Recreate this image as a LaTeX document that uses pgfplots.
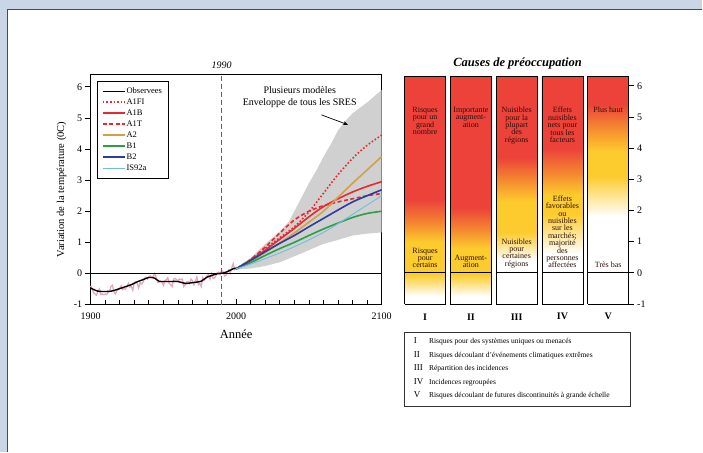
\documentclass[border=0pt]{standalone}
\usepackage{fontspec}
\setmainfont{Liberation Serif}
\usepackage{pgfplots}
\pgfplotsset{compat=1.18}
\usetikzlibrary{arrows.meta}

\definecolor{frameblue}{RGB}{203,213,232}
\definecolor{frameline}{RGB}{25,85,145}
\definecolor{envgray}{RGB}{208,208,208}
\definecolor{obspink}{RGB}{232,165,190}
\definecolor{cRed}{RGB}{236,66,58}
\definecolor{cOra}{RGB}{244,135,48}
\definecolor{cYel}{RGB}{252,203,45}
\definecolor{lRed}{RGB}{235,40,45}
\definecolor{lGold}{RGB}{212,160,70}
\definecolor{lGreen}{RGB}{40,160,70}
\definecolor{lBlue}{RGB}{45,60,160}
\definecolor{lCyan}{RGB}{110,190,225}
\definecolor{coltext}{RGB}{45,15,10}

% vertical colour ramps of the five columns (25bp = -1, 75bp = 6.3)
\pgfdeclareverticalshading{colI}{100bp}{color(0bp)=(white); color(26.7bp)=(white); color(31.5bp)=(cYel); color(38.7bp)=(cYel); color(42.8bp)=(cOra); color(47.9bp)=(cRed); color(100bp)=(cRed)}
\pgfdeclareverticalshading{colII}{100bp}{color(0bp)=(white); color(26.7bp)=(white); color(31.5bp)=(cYel); color(37.3bp)=(cYel); color(41.4bp)=(cOra); color(46.2bp)=(cRed); color(100bp)=(cRed)}
\pgfdeclareverticalshading{colIII}{100bp}{color(0bp)=(white); color(34.6bp)=(white); color(40.7bp)=(cYel); color(47.6bp)=(cYel); color(52.4bp)=(cOra); color(57.2bp)=(cRed); color(100bp)=(cRed)}
\pgfdeclareverticalshading{colIV}{100bp}{color(0bp)=(white); color(36.0bp)=(white); color(44.9bp)=(cYel); color(49.0bp)=(cYel); color(53.8bp)=(cOra); color(59.2bp)=(cRed); color(100bp)=(cRed)}
\pgfdeclareverticalshading{colV}{100bp}{color(0bp)=(white); color(44.2bp)=(white); color(53.1bp)=(cYel); color(58.6bp)=(cYel); color(64.0bp)=(cOra); color(68.8bp)=(cRed); color(100bp)=(cRed)}

\tikzset{
  colbox/.style={draw=black, line width=0.8pt, shade, shading=#1},
  coltxt/.style={font=\fontsize{8}{7.4}\selectfont, align=center, inner sep=0pt, text=coltext},
  numeral/.style={font=\fontsize{10}{12}\selectfont\bfseries},
}

% annual observed anomalies
\pgfplotstableread{
year val
1900 -0.40
1901 -0.48
1902 -0.62
1903 -0.66
1904 -0.70
1905 -0.58
1906 -0.50
1907 -0.68
1908 -0.66
1909 -0.68
1910 -0.66
1911 -0.68
1912 -0.60
1913 -0.58
1914 -0.42
1915 -0.38
1916 -0.58
1917 -0.66
1918 -0.56
1919 -0.50
1920 -0.47
1921 -0.40
1922 -0.52
1923 -0.48
1924 -0.50
1925 -0.42
1926 -0.32
1927 -0.44
1928 -0.42
1929 -0.54
1930 -0.30
1931 -0.26
1932 -0.32
1933 -0.46
1934 -0.30
1935 -0.34
1936 -0.28
1937 -0.16
1938 -0.12
1939 -0.18
1940 -0.10
1941 -0.08
1942 -0.12
1943 -0.10
1944 0.00
1945 -0.12
1946 -0.28
1947 -0.28
1948 -0.26
1949 -0.28
1950 -0.38
1951 -0.24
1952 -0.20
1953 -0.14
1954 -0.32
1955 -0.36
1956 -0.42
1957 -0.18
1958 -0.16
1959 -0.20
1960 -0.24
1961 -0.18
1962 -0.20
1963 -0.18
1964 -0.42
1965 -0.36
1966 -0.28
1967 -0.26
1968 -0.32
1969 -0.18
1970 -0.24
1971 -0.36
1972 -0.26
1973 -0.12
1974 -0.36
1975 -0.32
1976 -0.42
1977 -0.14
1978 -0.22
1979 -0.14
1980 -0.08
1981 -0.04
1982 -0.18
1983 0.00
1984 -0.14
1985 -0.16
1986 -0.08
1987 0.02
1988 0.04
1989 -0.04
1990 0.10
1991 0.06
1992 -0.08
1993 -0.06
1994 0.04
1995 0.12
1996 0.02
1997 0.18
1998 0.32
1999 0.12
2000 0.14
}\annualobs

\begin{document}
\begin{tikzpicture}
\fill[frameblue] (0pt,0pt) rectangle (703pt,452pt);
\fill[white] (8.1pt,0pt) rectangle (703pt,441.9pt);
\draw[frameline, line width=1.2pt] (7.6pt,0pt) -- (7.6pt,442.4pt) -- (703pt,442.4pt);
\path[use as bounding box] (0pt,0pt) rectangle (703pt,452pt);

% ---------------- temperature projections ----------------
\begin{axis}[
  at={(90.7pt,147.2pt)}, anchor=south west,
  scale only axis, width=291.3pt, height=230.3pt,
  xmin=1900, xmax=2100, ymin=-1, ymax=6.4,
  clip=false,
  axis line style={line width=0.9pt},
  xtick={1900,2000,2100}, minor x tick num=9,
  ytick={-1,0,1,2,3,4,5,6},
  xtick pos=left, ytick pos=left,
  tick align=inside,
  major tick length=6pt, minor tick length=5pt,
  y tick style={xshift=-6pt},
  tick style={line width=0.8pt, black},
  /pgf/number format/assume math mode=true,
  /pgf/number format/1000 sep={},
  ticklabel style={font=\fontsize{10}{12}\selectfont},
  xticklabel style={yshift=-5pt},
  yticklabel style={xshift=-5pt},
  xlabel={Année},
  xlabel style={font=\fontsize{12.5}{14}\selectfont, at={(axis description cs:0.5,-0.131)}, anchor=center},
  ylabel={Variation de la température (0C)},
  ylabel style={font=\fontsize{10.5}{12}\selectfont, at={(axis description cs:-0.10,0.5)}, anchor=center},
  legend image code/.code={\draw[#1] (0pt,0pt) -- (22pt,0pt);},
  legend style={at={(rel axis cs:0.0206,0.973)}, anchor=north west,
    line width=0.8pt, fill=white,
    font=\fontsize{8.5}{10}\selectfont,
    inner xsep=5pt, inner ysep=6pt, row sep=2.6pt,
    nodes={inner xsep=1pt, inner ysep=0.3pt, text height=6pt, text depth=1.8pt}},
  legend cell align=left,
]
% envelope of all SRES models
\addplot[fill=envgray, draw=none, forget plot] coordinates {
  (2000,0.18) (2010,0.5) (2020,0.95) (2030,1.35) (2036,1.65) (2040,2.0)
  (2045,2.45) (2050,2.9) (2055,3.3) (2060,3.75) (2065,4.15) (2070,4.6)
  (2075,4.9) (2080,5.15) (2090,5.5) (2100,5.9)
  (2100,1.32) (2090,1.28) (2080,1.22) (2070,1.08) (2060,0.95) (2050,0.75)
  (2040,0.55) (2030,0.36) (2020,0.24) (2010,0.16) (2000,0.12)};
\addplot[obspink, line width=1.3pt, forget plot] table[x=year, y=val] {\annualobs};
\addplot[black, line width=0.9pt, forget plot] coordinates {(1900,0) (2100,0)};
\addplot[gray!80!black, line width=0.9pt, dash pattern=on 5pt off 3pt, forget plot] coordinates {(1990,-1) (1990,6.4)};

\addplot[draw=black, line width=1.4pt, smooth] coordinates {
  (1900,-0.47) (1905,-0.57) (1910,-0.58) (1914,-0.57) (1918,-0.52)
  (1923,-0.44) (1928,-0.36) (1932,-0.27) (1936,-0.2) (1940,-0.13)
  (1944,-0.15) (1947,-0.25) (1953,-0.26) (1960,-0.26) (1965,-0.32)
  (1971,-0.29) (1976,-0.25) (1980,-0.12) (1987,-0.01) (1991,0.01)
  (1994,0.06) (1998,0.15) (2000,0.17)};
\addlegendentry{Observees}
\addplot[draw=lRed, line width=1.6pt, dotted, smooth] coordinates {
  (2000,0.15) (2010,0.45) (2020,0.8) (2030,1.15) (2040,1.5) (2050,1.98)
  (2060,2.58) (2070,3.18) (2080,3.7) (2090,4.12) (2100,4.45)};
\addlegendentry{A1FI}
\addplot[draw=lRed, line width=1.6pt, smooth] coordinates {
  (2000,0.15) (2010,0.42) (2020,0.75) (2030,1.1) (2040,1.45) (2050,1.82)
  (2060,2.15) (2070,2.4) (2080,2.62) (2090,2.8) (2100,2.95)};
\addlegendentry{A1B}
\addplot[draw=lRed, line width=1.6pt, dash pattern=on 4pt off 2.5pt, smooth] coordinates {
  (2000,0.15) (2010,0.45) (2020,0.85) (2030,1.3) (2040,1.72) (2050,2.0)
  (2060,2.18) (2070,2.3) (2080,2.4) (2090,2.5) (2100,2.57)};
\addlegendentry{A1T}
\addplot[draw=lGold, line width=1.6pt, smooth] coordinates {
  (2000,0.15) (2010,0.4) (2020,0.68) (2030,0.98) (2040,1.3) (2050,1.65)
  (2060,2.0) (2070,2.45) (2080,2.9) (2090,3.33) (2100,3.76)};
\addlegendentry{A2}
\addplot[draw=lGreen, line width=1.6pt, smooth] coordinates {
  (2000,0.15) (2010,0.35) (2020,0.58) (2030,0.8) (2040,1.0) (2050,1.22)
  (2060,1.43) (2070,1.62) (2080,1.8) (2090,1.93) (2100,2.0)};
\addlegendentry{B1}
\addplot[draw=lBlue, line width=1.6pt, smooth] coordinates {
  (2000,0.15) (2010,0.42) (2020,0.7) (2030,0.97) (2040,1.22) (2050,1.5)
  (2060,1.77) (2070,2.04) (2080,2.3) (2090,2.5) (2100,2.69)};
\addlegendentry{B2}
\addplot[draw=lCyan, line width=0.9pt, smooth] coordinates {
  (2000,0.15) (2010,0.3) (2020,0.48) (2030,0.66) (2040,0.86) (2050,1.08)
  (2060,1.32) (2070,1.6) (2080,1.9) (2090,2.2) (2100,2.5)};
\addlegendentry{IS92a}

\node[font=\fontsize{10}{12}\selectfont\itshape] at (axis cs:1990,6.4) [yshift=9pt] {1990};
\node[font=\fontsize{10}{11.6}\selectfont, align=center] at (axis cs:2043.7,5.67) {Plusieurs modèles\\Enveloppe de tous les SRES};
\draw[-{Stealth[length=5pt,width=4pt]}, line width=0.7pt] (axis cs:2058.6,5.10) -- (axis cs:2076.9,4.78);
\end{axis}

% ---------------- reasons for concern ----------------
\begin{axis}[
  at={(405pt,147.7pt)}, anchor=south west,
  scale only axis, width=224.2pt, height=227.8pt,
  xmin=0, xmax=224.2, ymin=-1, ymax=6.3,
  clip=false,
  axis x line=none, axis y line*=right,
  axis line style={line width=0.9pt, -},
  ytick={-1,0,1,2,3,4,5,6},
  tick align=outside, major tick length=5pt,
  tick style={line width=0.8pt, black},
  /pgf/number format/assume math mode=true,
  ticklabel style={font=\fontsize{10}{12}\selectfont},
]
\addplot[colbox=colI]   coordinates {(0,-1) (41,-1) (41,6.3) (0,6.3) (0,-1)};
\addplot[colbox=colII]  coordinates {(45.8,-1) (86.8,-1) (86.8,6.3) (45.8,6.3) (45.8,-1)};
\addplot[colbox=colIII] coordinates {(91.6,-1) (132.6,-1) (132.6,6.3) (91.6,6.3) (91.6,-1)};
\addplot[colbox=colIV]  coordinates {(137.4,-1) (178.4,-1) (178.4,6.3) (137.4,6.3) (137.4,-1)};
\addplot[colbox=colV]   coordinates {(183.2,-1) (224.2,-1) (224.2,6.3) (183.2,6.3) (183.2,-1)};
\addplot[black, line width=0.8pt] coordinates {(0,0) (41,0)};
\addplot[black, line width=0.8pt] coordinates {(45.8,0) (86.8,0)};
\addplot[black, line width=0.8pt] coordinates {(91.6,0) (132.6,0)};
\addplot[black, line width=0.8pt] coordinates {(137.4,0) (178.4,0)};
\addplot[black, line width=0.8pt] coordinates {(183.2,0) (224.2,0)};

\node[coltxt, anchor=north] at (axis cs:20.5,5.32) {Risques\\pour un\\grand\\nombre};
\node[coltxt, anchor=north] at (axis cs:66.3,5.32) {Importante\\augment-\\ation};
\node[coltxt, anchor=north] at (axis cs:112.1,5.32) {Nuisibles\\pour la\\plupart\\des\\régions};
\node[coltxt, anchor=north] at (axis cs:157.9,5.32) {Effets\\nuisibles\\nets pour\\tous les\\facteurs};
\node[coltxt, anchor=north] at (axis cs:203.7,5.32) {Plus haut};

\node[coltxt, anchor=south] at (axis cs:20.5,0.15) {Risques\\pour\\certains};
\node[coltxt, anchor=south] at (axis cs:66.3,0.15) {Augment-\\ation};
\node[coltxt, anchor=south] at (axis cs:112.1,0.15) {Nuisibles\\pour\\certaines\\régions};
\node[coltxt, anchor=south] at (axis cs:157.9,0.15) {Effets\\favorables\\ou\\nuisibles\\sur les\\marchés;\\majorité\\des\\personnes\\affectées};
\node[coltxt, anchor=south] at (axis cs:203.7,0.15) {Très bas};

\node[numeral] at (axis cs:20.5,-1) [yshift=-12.7pt] {I};
\node[numeral] at (axis cs:66.3,-1) [yshift=-12.7pt] {II};
\node[numeral] at (axis cs:112.1,-1) [yshift=-12.7pt] {III};
\node[numeral] at (axis cs:157.9,-1) [yshift=-12.7pt] {IV};
\node[numeral] at (axis cs:203.7,-1) [yshift=-12.7pt] {V};
\end{axis}

\node[font=\fontsize{12.5}{14}\selectfont\bfseries\itshape] at (518pt,388pt) {Causes de préoccupation};

% key to the five reasons
\draw[line width=0.7pt, black!80] (405pt,119.3pt) rectangle (630.7pt,45.3pt);
\begin{scope}[every node/.style={anchor=base west, inner sep=0pt}]
\node[font=\fontsize{9}{10}\selectfont] at (414pt,108pt) {I};
\node[font=\fontsize{9}{10}\selectfont] at (414pt,94.5pt) {II};
\node[font=\fontsize{9}{10}\selectfont] at (414pt,81pt) {III};
\node[font=\fontsize{9}{10}\selectfont] at (414pt,67.5pt) {IV};
\node[font=\fontsize{9}{10}\selectfont] at (414pt,54pt) {V};
\node[font=\fontsize{7.5}{9}\selectfont] at (429.3pt,108pt) {Risques pour des systèmes uniques ou menacés};
\node[font=\fontsize{7.5}{9}\selectfont] at (429.3pt,94.5pt) {Risques découlant d’événements climatiques extrêmes};
\node[font=\fontsize{7.5}{9}\selectfont] at (429.3pt,81pt) {Répartition des incidences};
\node[font=\fontsize{7.5}{9}\selectfont] at (429.3pt,67.5pt) {Incidences regroupées};
\node[font=\fontsize{7.5}{9}\selectfont] at (429.3pt,54pt) {Risques découlant de futures discontinuités à grande échelle};
\end{scope}
\end{tikzpicture}
\end{document}
